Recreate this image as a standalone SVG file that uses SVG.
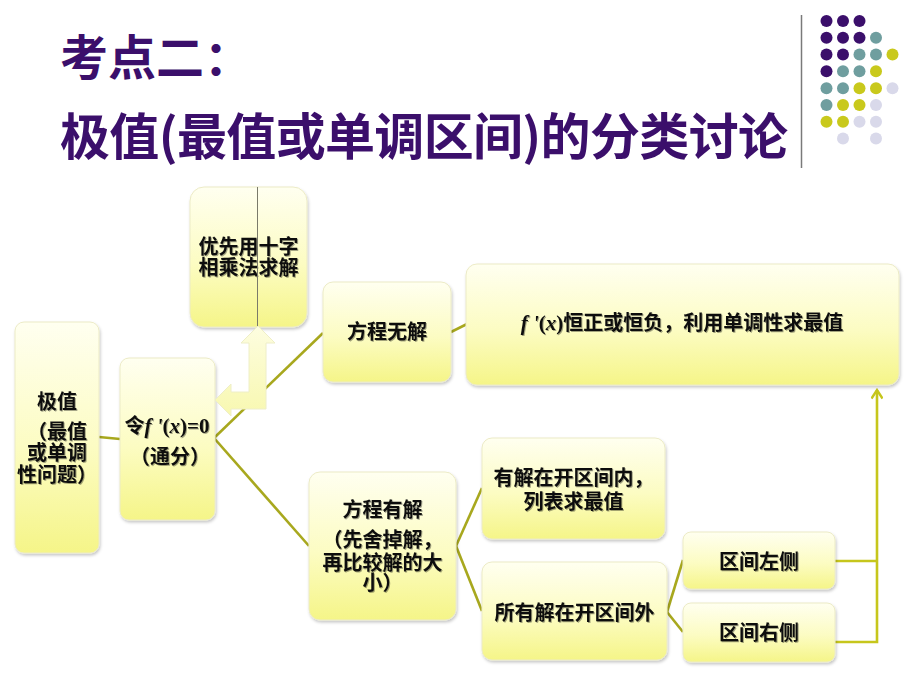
<svg xmlns="http://www.w3.org/2000/svg" width="920" height="690" viewBox="0 0 920 690">
<defs>
  <linearGradient id="gBox" x1="0" y1="0" x2="0" y2="1">
    <stop offset="0" stop-color="#fffff0"/>
    <stop offset="0.55" stop-color="#fcfcc2"/>
    <stop offset="1" stop-color="#f5f588"/>
  </linearGradient>
  <linearGradient id="gArrow" x1="0" y1="0" x2="0" y2="1">
    <stop offset="0" stop-color="#fdfde0"/>
    <stop offset="1" stop-color="#f8f8b0"/>
  </linearGradient>
  <filter id="sh" x="-10%" y="-10%" width="130%" height="130%">
    <feDropShadow dx="1" dy="2" stdDeviation="1.5" flood-color="#000" flood-opacity="0.22"/>
  </filter>
  <filter id="tsh" x="-5%" y="-20%" width="110%" height="140%">
    <feDropShadow dx="1" dy="1" stdDeviation="0.6" flood-color="#000" flood-opacity="0.35"/>
  </filter>
  <marker id="arr" viewBox="0 0 12 12" refX="10" refY="6" markerWidth="12" markerHeight="12" markerUnits="userSpaceOnUse" orient="auto">
    <path d="M1.5,0.5 L10,6 L1.5,11.5" fill="none" stroke="#c6c61c" stroke-width="2.4"/>
  </marker>
  <style>
    .title { font-family: "Noto Sans CJK SC", "Liberation Sans", sans-serif; font-weight: 700; fill: #3b0f6b; }
    .box { fill: url(#gBox); stroke: #ecebc6; stroke-width: 1; filter: url(#sh); }
    .t { font-family: "Liberation Sans", "Noto Sans CJK SC", sans-serif; font-weight: 700; font-size: 20px; fill: #111; text-anchor: middle; filter: url(#tsh); }
    .m { font-family: "Liberation Serif", serif; font-size: 21px; font-weight: 700; }
    .i { font-style: italic; }
    .con { fill: none; stroke: #a8a81e; stroke-width: 2.6; }
    .fb { fill: none; stroke: #c6c61c; stroke-width: 2.6; }
    .P { fill: #3b0f6b; } .T { fill: #6f9e9f; } .Y { fill: #c9c91c; } .L { fill: #d9d9ea; }
  </style>
</defs>

<rect width="920" height="690" fill="#ffffff"/>

<g id="title">
  <text class="title" x="60" y="75" font-size="48">考点二：</text>
  <text class="title" x="60" y="155" font-size="50" textLength="728" lengthAdjust="spacing">极值(最值或单调区间)的分类讨论</text>
</g>

<g id="decor">
  <line x1="801.5" y1="15" x2="801.5" y2="168" stroke="#7a7a7a" stroke-width="1.5"/>
  <circle class="P" cx="826.5" cy="21" r="6"/><circle class="P" cx="843" cy="21" r="6"/><circle class="P" cx="859.5" cy="21" r="6"/>
  <circle class="P" cx="826.5" cy="37.8" r="6"/><circle class="P" cx="843" cy="37.8" r="6"/><circle class="P" cx="859.5" cy="37.8" r="6"/><circle class="T" cx="876" cy="37.8" r="6"/>
  <circle class="P" cx="826.5" cy="54.5" r="6"/><circle class="P" cx="843" cy="54.5" r="6"/><circle class="T" cx="859.5" cy="54.5" r="6"/><circle class="T" cx="876" cy="54.5" r="6"/><circle class="Y" cx="892.5" cy="54.5" r="6"/>
  <circle class="P" cx="826.5" cy="71.3" r="6"/><circle class="T" cx="843" cy="71.3" r="6"/><circle class="T" cx="859.5" cy="71.3" r="6"/><circle class="Y" cx="876" cy="71.3" r="6"/>
  <circle class="T" cx="826.5" cy="88.2" r="6"/><circle class="T" cx="843" cy="88.2" r="6"/><circle class="Y" cx="859.5" cy="88.2" r="6"/><circle class="Y" cx="876" cy="88.2" r="6"/><circle class="L" cx="892.5" cy="88.2" r="6"/>
  <circle class="T" cx="826.5" cy="105" r="6"/><circle class="Y" cx="843" cy="105" r="6"/><circle class="Y" cx="859.5" cy="105" r="6"/><circle class="L" cx="876" cy="105" r="6"/>
  <circle class="Y" cx="826.5" cy="121.8" r="6"/><circle class="Y" cx="843" cy="121.8" r="6"/><circle class="L" cx="859.5" cy="121.8" r="6"/><circle class="L" cx="876" cy="121.8" r="6"/>
  <circle class="L" cx="843" cy="138.5" r="6"/><circle class="L" cx="876" cy="138.5" r="6"/>
</g>

<g id="connectors">
  <line class="con" x1="99" y1="437" x2="120" y2="439"/>
  <line class="con" x1="214" y1="438" x2="323" y2="333"/>
  <line class="con" x1="214" y1="438" x2="309" y2="546"/>
  <line class="con" x1="451" y1="332" x2="467" y2="324"/>
  <line class="con" x1="456" y1="546" x2="482" y2="488"/>
  <line class="con" x1="456" y1="546" x2="482" y2="611"/>
  <line class="con" x1="667" y1="612" x2="683" y2="560"/>
  <line class="con" x1="667" y1="612" x2="683" y2="632"/>
  <path class="fb" d="M835,561 H877"/>
  <path class="fb" d="M835,642 H877 V390" marker-end="url(#arr)"/>
</g>

<g id="n-jizhi">
  <rect class="box" x="15" y="322" width="84" height="231" rx="9"/>
  <text class="t" x="57" y="409">极值</text>
  <text class="t" x="57" y="439">（最值</text>
  <text class="t" x="57" y="460">或单调</text>
  <text class="t" x="57" y="482">性问题）</text>
</g>

<g id="n-ling">
  <rect class="box" x="120" y="358" width="95" height="162" rx="9"/>
  <text class="t" x="167" y="433">令<tspan class="m i">f </tspan><tspan class="m i">'</tspan><tspan class="m">(</tspan><tspan class="m i">x</tspan><tspan class="m">)=0</tspan></text>
  <text class="t" x="170" y="464">（通分）</text>
</g>

<g id="n-youxian">
  <rect class="box" x="190" y="187" width="117" height="140" rx="14"/>
  <text class="t" x="248.5" y="254">优先用十字</text>
  <text class="t" x="248.5" y="275">相乘法求解</text>
  <line x1="257.5" y1="187" x2="257.5" y2="327" stroke="#7a7a6a" stroke-width="1"/>
</g>

<g id="n-arrow">
  <polygon points="258,326 275,343 266,343 266,409 231,409 231,416 215,400 231,384 231,392 249,392 249,343 241,343" fill="url(#gArrow)" stroke="#eeeec8" stroke-width="1"/>
</g>

<g id="n-wujie">
  <rect class="box" x="323" y="282" width="128" height="100" rx="10"/>
  <text class="t" x="387" y="339">方程无解</text>
</g>

<g id="n-hengzheng">
  <rect class="box" x="466" y="264" width="433" height="121" rx="11"/>
  <text class="t" x="682" y="330"><tspan class="m i">f </tspan><tspan class="m i">'</tspan><tspan class="m">(</tspan><tspan class="m i">x</tspan><tspan class="m">)</tspan>恒正或恒负，利用单调性求最值</text>
</g>

<g id="n-youjie">
  <rect class="box" x="309" y="472" width="147" height="148" rx="11"/>
  <text class="t" x="382.5" y="517">方程有解</text>
  <text class="t" x="382.5" y="547">（先舍掉解，</text>
  <text class="t" x="382.5" y="570">再比较解的大</text>
  <text class="t" x="382.5" y="590">小）</text>
</g>

<g id="n-kainei">
  <rect class="box" x="482" y="438" width="183" height="101" rx="10"/>
  <text class="t" x="573.5" y="485">有解在开区间内，</text>
  <text class="t" x="573.5" y="509">列表求最值</text>
</g>

<g id="n-kaiwai">
  <rect class="box" x="482" y="562" width="185" height="98" rx="10"/>
  <text class="t" x="574.5" y="620">所有解在开区间外</text>
</g>

<g id="n-zuoce">
  <rect class="box" x="683" y="532" width="152" height="57" rx="8"/>
  <text class="t" x="759" y="569">区间左侧</text>
</g>

<g id="n-youce">
  <rect class="box" x="683" y="603" width="152" height="59" rx="8"/>
  <text class="t" x="759" y="640">区间右侧</text>
</g>
</svg>
